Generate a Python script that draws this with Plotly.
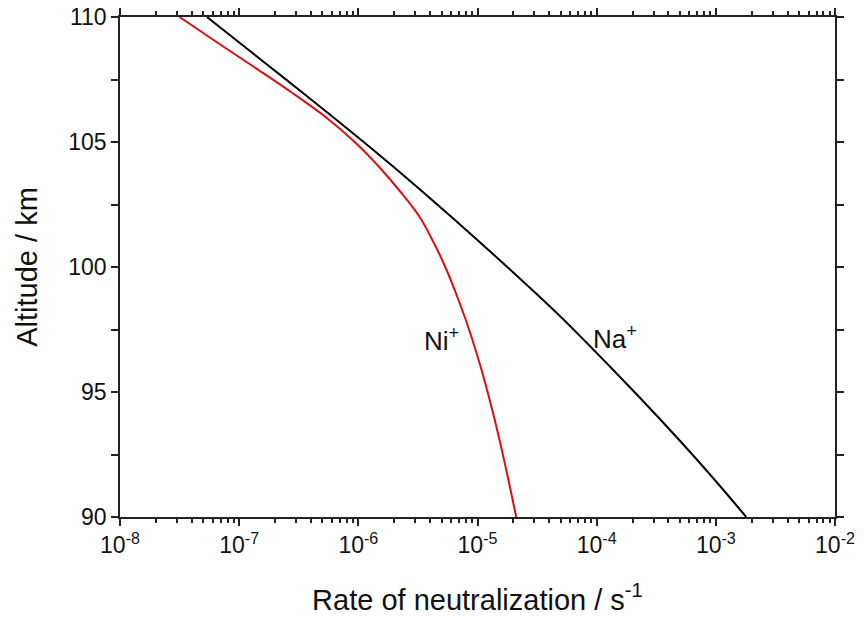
import plotly.graph_objects as go

altitude_km = [110, 109, 108, 107, 106, 105, 104, 103, 102, 101, 100,
               99, 98, 97, 96, 95, 94, 93, 92, 91, 90]
# log10 of rate (s^-1)
na_log_rate = [-7.27, -7.005, -6.74, -6.475, -6.213, -5.955, -5.703, -5.458, -5.218, -4.982, -4.75,
               -4.522, -4.30, -4.09, -3.885, -3.683, -3.485, -3.292, -3.104, -2.922, -2.745]
ni_log_rate = [-7.50, -7.19, -6.875, -6.565, -6.275, -6.03, -5.825, -5.645, -5.485, -5.37, -5.27,
               -5.185, -5.107, -5.037, -4.973, -4.915, -4.861, -4.811, -4.764, -4.719, -4.675]

na_rate = [10 ** v for v in na_log_rate]
ni_rate = [10 ** v for v in ni_log_rate]

x_major = [1e-8, 1e-7, 1e-6, 1e-5, 1e-4, 1e-3, 1e-2]
x_major_text = ["10<sup>-8</sup>", "10<sup>-7</sup>", "10<sup>-6</sup>", "10<sup>-5</sup>",
                "10<sup>-4</sup>", "10<sup>-3</sup>", "10<sup>-2</sup>"]
x_minor = [m * d for d in [1e-8, 1e-7, 1e-6, 1e-5, 1e-4, 1e-3] for m in range(2, 10)]
y_major = [90, 95, 100, 105, 110]
y_minor = [92.5, 97.5, 102.5, 107.5]

label_text = ["Ni<sup>+</sup>", "Na<sup>+</sup>"]
label_log_x = [-5.30, -3.85]
label_y = [97.1, 97.2]

FONT = "Liberation Sans, Arial, sans-serif"

fig = go.Figure()
fig.add_trace(go.Scatter(x=ni_rate, y=altitude_km, mode="lines", line_shape="spline",
                         line=dict(color="#d81010", width=2, smoothing=1.0), showlegend=False))
fig.add_trace(go.Scatter(x=na_rate, y=altitude_km, mode="lines", line_shape="spline",
                         line=dict(color="#000000", width=2, smoothing=1.0), showlegend=False))

for t, lx, ly in zip(label_text, label_log_x, label_y):
    fig.add_annotation(x=lx, y=ly, text=t, showarrow=False, xref="x", yref="y",
                       font=dict(family=FONT, size=26, color="#111"))

axis_common = dict(showline=True, linecolor="#222", linewidth=1.5, mirror="allticks",
                   ticks="outside", tickcolor="#222", tickwidth=1.5, ticklen=7,
                   showgrid=False, zeroline=False, automargin=False,
                   tickfont=dict(family=FONT, size=23, color="#111"))

fig.update_xaxes(type="log", range=[-8, -2], tickmode="array", tickvals=x_major,
                 ticktext=x_major_text,
                 minor=dict(tickmode="array", tickvals=x_minor, ticks="outside",
                            ticklen=4, tickcolor="#222", tickwidth=1.5, showgrid=False),
                 title=dict(text="Rate of neutralization / s<sup>-1</sup>",
                            font=dict(family=FONT, size=29, color="#111"), standoff=32),
                 **axis_common)
fig.update_yaxes(range=[90, 110], tickmode="array", tickvals=y_major,
                 minor=dict(tickmode="array", tickvals=y_minor, ticks="outside",
                            ticklen=7, tickcolor="#222", tickwidth=1.5, showgrid=False),
                 title=dict(text="Altitude / km",
                            font=dict(family=FONT, size=29, color="#111"), standoff=22),
                 **axis_common)

fig.update_layout(width=864, height=618, plot_bgcolor="white", paper_bgcolor="white",
                  margin=dict(l=120, r=29, t=17, b=101), showlegend=False)

fig.write_html("out.html")
